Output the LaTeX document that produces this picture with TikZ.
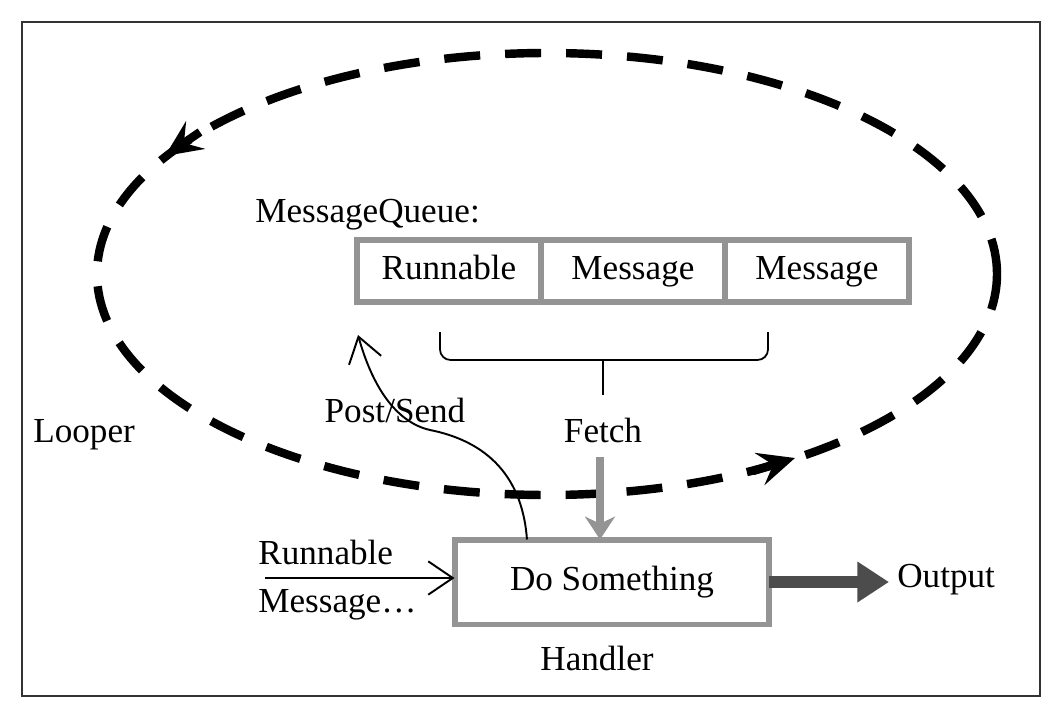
\documentclass[tikz,border=0pt]{standalone}
\usepackage{fontspec}
\setmainfont{Liberation Serif}
\usetikzlibrary{arrows.meta,positioning,calc}

\definecolor{boxgray}{gray}{0.58}
\definecolor{outgray}{gray}{0.3}
\definecolor{framegray}{gray}{0.2}

\tikzset{
  txt/.style={font=\fontsize{20}{24}\selectfont, inner sep=0pt},
  qcell/.style={txt, draw=boxgray, line width=3.4pt, outer sep=0pt, text height=14pt, text depth=4pt,
    minimum width=3.68cm, minimum height=1.24cm},
  hbox/.style={txt, draw=boxgray, line width=3.4pt, outer sep=0pt, minimum width=6.3cm, minimum height=1.7cm},
  loopline/.style={line width=4.8pt, dash pattern=on 0.72cm off 0.5cm},
  looparrow/.style={line width=4.8pt, -{Stealth[length=21pt, width=19pt, inset=8pt]}},
  thinarrow/.style={line width=1.1pt, -{Straight Barb[length=14pt, width=19pt]}},
  fetcharrow/.style={boxgray, line width=4pt, -{Stealth[length=13pt, width=17pt, inset=4pt]}},
  outarrow/.style={outgray, line width=7pt, -{Triangle[length=18pt, width=22pt]}},
}

\begin{document}
\begin{tikzpicture}[x=0.02cm, y=-0.02cm]
\useasboundingbox (0,0) rectangle (1060,716);
\draw[framegray, line width=1.5pt] (22,22) rectangle (1040,696);

% the loop
\draw[loopline] (547,274) ellipse [x radius=450, y radius=221];
\draw[looparrow] (200,132) -- (165,156);
\draw[looparrow] (753,471) -- (795,458);
\node[txt, anchor=west] (looper) at (33,435) {Looper};

% message queue
\node[txt, anchor=base west] (mqlabel) at (255,222) {MessageQueue:};
\node[qcell, anchor=north west] (q1) at (357,240) {Runnable};
\node[qcell, right=0pt of q1] (q2) {Message};
\node[qcell, right=0pt of q2] (q3) {Message};

% brace
\draw[line width=1pt, rounded corners=6pt] (440,332) |- (603,360);
\draw[line width=1pt, rounded corners=6pt] (768,332) |- (603,360);
\draw[line width=1pt] (603,360) -- (603,395);
\node[txt] (fetch) at (603,430) {Fetch};

% handler
\node[hbox] (handler) at (612,582) {Do Something};
\node[txt] (hname) at (597,658) {Handler};
\draw[fetcharrow] ($(fetch.south)+(-3,14)$) -- ($(handler.north)+(-12,0)$);

% input
\node[txt, anchor=west] (inrun) at (258,552) {Runnable};
\node[txt, anchor=west] (inmsg) at (258,605) {Message\ldots};
\coordinate (in) at (265,578);
\draw[thinarrow] (in) -- (in -| handler.west);

% post / send
\node[txt] (post) at (395,410) {Post/Send};
\coordinate (postfrom) at ($(handler.north west)!0.23!(handler.north east)$);
\coordinate (postto) at ($(q1.south west)+(1,33)$);
\draw[thinarrow] (postfrom) .. controls (522,470) and (480,440) .. (430,430)
  .. controls (395,422) and (372,385) .. (postto);

% output
\node[txt, anchor=west] (output) at (897,580) {Output};
\draw[outarrow] (handler.east) -- ($(handler.east -| output.west)+(-8,0)$);
\end{tikzpicture}
\end{document}
